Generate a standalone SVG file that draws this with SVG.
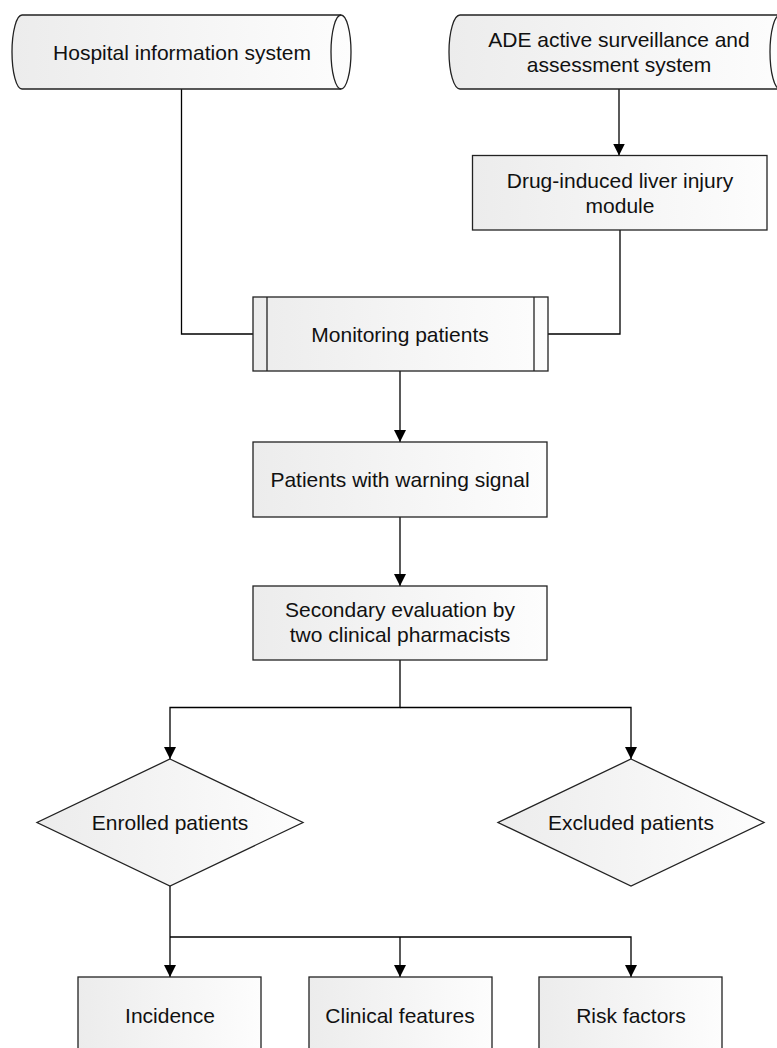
<svg xmlns="http://www.w3.org/2000/svg" width="777" height="1048" viewBox="0 0 777 1048">
<style>
.shape{fill:url(#g);stroke:#222;stroke-width:1.3}
.line{fill:none;stroke:#000;stroke-width:1.3}
.arr{marker-end:url(#ah)}
text{font-family:"Liberation Sans",Arial,sans-serif;font-size:21px;fill:#111;text-anchor:middle}
</style>
<defs>
<linearGradient id="g" x1="0" y1="0" x2="1" y2="0">
<stop offset="0" stop-color="#ececec"/>
<stop offset="1" stop-color="#fdfdfd"/>
</linearGradient>
<marker id="ah" markerUnits="userSpaceOnUse" markerWidth="12" markerHeight="12" viewBox="0 0 12 12" refX="12" refY="6" orient="auto">
<path d="M0,0 L12,6 L0,12 Z" fill="#000"/>
</marker>
</defs>
<g id="connectors">
<path class="line" d="M181.5,89 V334 H253"/>
<path class="line arr" d="M619,89 V155.5"/>
<path class="line" d="M620,230 V334 H548"/>
<path class="line arr" d="M400,371 V442"/>
<path class="line arr" d="M400,517 V586"/>
<path class="line arr" d="M400,660 V707.5 H170 V759"/>
<path class="line arr" d="M400,707.5 H631 V759"/>
<path class="line arr" d="M170,886 V977"/>
<path class="line arr" d="M170,937 H631 V977"/>
<path class="line arr" d="M400,937 V977"/>
</g>
<g id="hospital">
<path class="shape" d="M22,15 L341,15 A10,37 0 0 1 341,89 L22,89 A10,37 0 0 1 22,15 Z"/>
<path class="line" style="stroke:#222" d="M341,15 A10,37 0 0 0 341,89"/>
<text x="182" y="60">Hospital information system</text>
</g>
<g id="ade">
<path class="shape" d="M460,15 L780,15 A10,37 0 0 1 780,89 L460,89 A11,37 0 0 1 460,15 Z"/>
<path class="line" style="stroke:#222" d="M780,15 A10,37 0 0 0 780,89"/>
<text x="619" y="47">ADE active surveillance and</text>
<text x="619" y="72">assessment system</text>
</g>
<g id="dili">
<rect class="shape" x="472.5" y="155.5" width="294.5" height="74.5"/>
<text x="620" y="188">Drug-induced liver injury</text>
<text x="620" y="213">module</text>
</g>
<g id="monitoring">
<rect class="shape" x="253" y="297" width="295" height="74"/>
<line class="line" style="stroke:#222" x1="267" y1="297" x2="267" y2="371"/>
<line class="line" style="stroke:#222" x1="534" y1="297" x2="534" y2="371"/>
<text x="400" y="342">Monitoring patients</text>
</g>
<g id="warning">
<rect class="shape" x="253" y="442" width="294" height="75"/>
<text x="400" y="487">Patients with warning signal</text>
</g>
<g id="secondary">
<rect class="shape" x="253" y="586" width="294" height="74"/>
<text x="400" y="617">Secondary evaluation by</text>
<text x="400" y="642">two clinical pharmacists</text>
</g>
<g id="enrolled">
<polygon class="shape" points="170,759 303,822.5 170,886 37,822.5"/>
<text x="170" y="830">Enrolled patients</text>
</g>
<g id="excluded">
<polygon class="shape" points="631,759 764,822.5 631,886 498,822.5"/>
<text x="631" y="830">Excluded patients</text>
</g>
<g id="incidence">
<rect class="shape" x="78" y="977" width="183" height="90"/>
<text x="170" y="1023">Incidence</text>
</g>
<g id="clinical">
<rect class="shape" x="309" y="977" width="183" height="90"/>
<text x="400" y="1023">Clinical features</text>
</g>
<g id="risk">
<rect class="shape" x="539" y="977" width="183" height="90"/>
<text x="631" y="1023">Risk factors</text>
</g>
</svg>
